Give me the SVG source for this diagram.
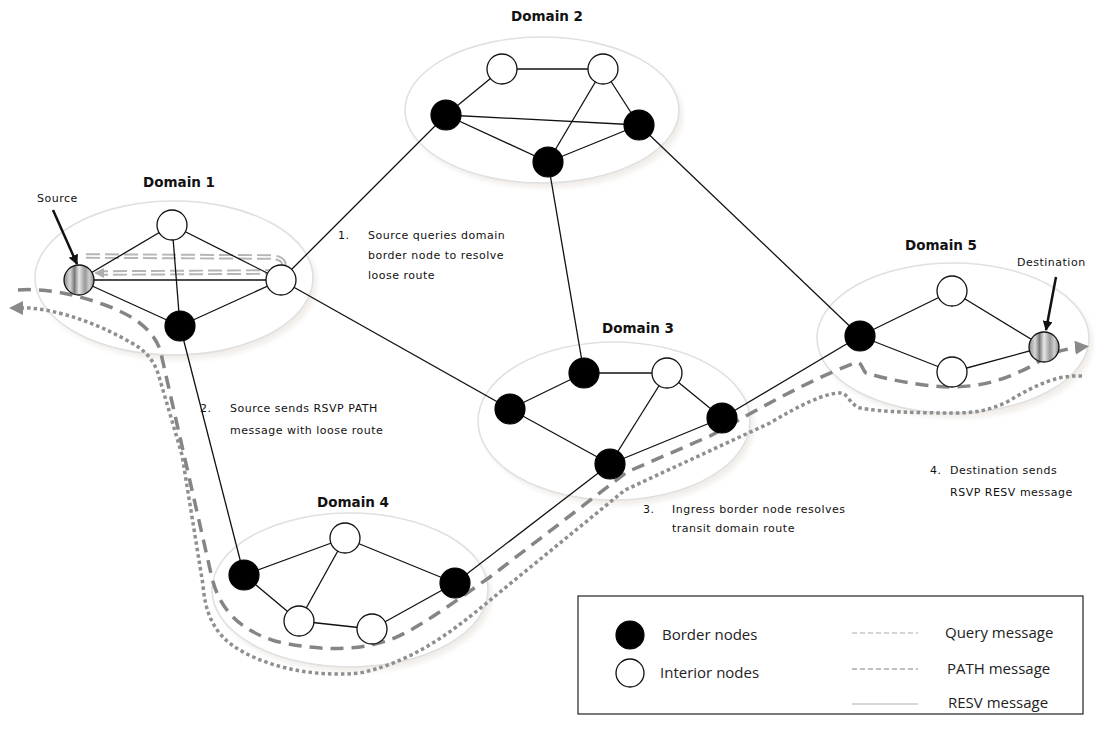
<svg xmlns="http://www.w3.org/2000/svg" width="1095" height="735" viewBox="0 0 1095 735">
<defs>
<style>
.dom{fill:#ffffff;stroke:#e0e0e0;stroke-width:1.6}
.shadow{fill:#f1ede9;filter:url(#blur)}
.edge{stroke:#111;stroke-width:1.3;fill:none}
.border{fill:#000;stroke:#000;stroke-width:1.2}
.interior{fill:#fff;stroke:#111;stroke-width:1.3}
.endpoint{fill:url(#stripe);stroke:#111;stroke-width:1.3}
.dtitle{font-family:"DejaVu Sans",sans-serif;font-weight:bold;font-size:13.5px;fill:#111;text-anchor:middle}
.note{font-family:"DejaVu Sans",sans-serif;font-size:11px;letter-spacing:0.5px;fill:#111}
.leg{font-family:"Open Sans",sans-serif;font-size:15px;fill:#222}
.path{fill:none;stroke:#858585;stroke-width:3.5;stroke-dasharray:13 8}
.resv{fill:none;stroke:#8f8f8f;stroke-width:3.5;stroke-dasharray:3.5 3}
.qo{fill:none;stroke:#b5b5b5;stroke-width:5.5;stroke-dasharray:14 5}
.qi{fill:none;stroke:#fff;stroke-width:1.6;stroke-dasharray:14 5}
</style>
<filter id="blur" x="-10%" y="-10%" width="120%" height="130%"><feGaussianBlur stdDeviation="2.5"/></filter>
<linearGradient id="stripe" x1="0" y1="0" x2="1" y2="0">
<stop offset="0" stop-color="#8a8a8a"/>
<stop offset="0.2" stop-color="#d8d8d8"/>
<stop offset="0.35" stop-color="#7a7a7a"/>
<stop offset="0.5" stop-color="#e8e8e8"/>
<stop offset="0.7" stop-color="#9a9a9a"/>
<stop offset="0.85" stop-color="#cfcfcf"/>
<stop offset="1" stop-color="#888"/>
</linearGradient>
<marker id="arrGray" viewBox="0 0 10 10" refX="5" refY="5" markerWidth="4" markerHeight="4" orient="auto" markerUnits="strokeWidth">
<path d="M0,0 L10,5 L0,10 z" fill="#8a8a8a"/>
</marker>
<marker id="arrBlack" viewBox="0 0 10 10" refX="9" refY="5" markerWidth="4" markerHeight="4" orient="auto" markerUnits="strokeWidth">
<path d="M0,0 L10,5 L0,10 z" fill="#111"/>
</marker>
</defs>

<rect width="1095" height="735" fill="#ffffff"/>

<g id="domains">
<ellipse class="shadow" cx="178" cy="283" rx="139" ry="77"/>
<ellipse class="dom" cx="174" cy="278" rx="139" ry="77"/>
<ellipse class="shadow" cx="546" cy="115" rx="137" ry="73"/>
<ellipse class="dom" cx="542" cy="110" rx="137" ry="73"/>
<ellipse class="shadow" cx="618" cy="426" rx="136" ry="79"/>
<ellipse class="dom" cx="614" cy="421" rx="136" ry="79"/>
<ellipse class="shadow" cx="354" cy="595" rx="138" ry="77"/>
<ellipse class="dom" cx="350" cy="590" rx="138" ry="77"/>
<ellipse class="shadow" cx="957" cy="343" rx="136" ry="75"/>
<ellipse class="dom" cx="953" cy="338" rx="136" ry="75"/>
</g>

<g id="messages">
<path id="path-msg" class="path" d="M18 290 C45 288,75 294,105 305 C135 316,158 332,162 358 L212 578 C220 610,240 630,275 641 C320 652,370 652,405 633 C430 620,460 598,490 577 L627 472 L710 436 C740 420,780 395,837 370 L857 362 C862 362,862 370,866 373 C890 380,920 386,950 387 C985 387,1010 378,1037 363 Q1052 350,1082 347" marker-end="url(#arrGray)"/>
<path id="resv-msg" class="resv" d="M1082 376 C1060 375,1040 382,1007 402 C990 410,975 413,955 413 C920 413,880 412,860 408 C850 405,848 393,840 393 C825 393,800 405,770 423 L625 490 L500 592 C460 625,420 660,360 673 C310 678,260 665,232 645 C212 630,205 610,203 585 L182 455 L160 380 C155 360,145 350,130 342 C105 328,70 312,30 308 L16 308" marker-end="url(#arrGray)"/>
<g id="query-msg">
<path class="qo" d="M86 256 L272 257 C288 258,288 271,270 272 L104 273"/>
<path class="qi" d="M86 256 L272 257 C288 258,288 271,270 272 L104 273"/>
<path d="M104 268 L94 273 L104 278 z" fill="#b0b0b0"/>
</g>
</g>

<g id="connectors">
<line class="edge" x1="79" y1="280" x2="172" y2="225"/>
<line class="edge" x1="79" y1="280" x2="281" y2="280"/>
<line class="edge" x1="79" y1="280" x2="180" y2="326"/>
<line class="edge" x1="172" y1="225" x2="180" y2="326"/>
<line class="edge" x1="172" y1="225" x2="281" y2="280"/>
<line class="edge" x1="180" y1="326" x2="281" y2="280"/>
<line class="edge" x1="281" y1="280" x2="446" y2="115"/>
<line class="edge" x1="281" y1="280" x2="510" y2="409"/>
<line class="edge" x1="180" y1="326" x2="244" y2="575"/>
<line class="edge" x1="502" y1="69" x2="603" y2="69"/>
<line class="edge" x1="502" y1="69" x2="446" y2="115"/>
<line class="edge" x1="446" y1="115" x2="639" y2="125"/>
<line class="edge" x1="446" y1="115" x2="548" y2="162"/>
<line class="edge" x1="603" y1="69" x2="548" y2="162"/>
<line class="edge" x1="603" y1="69" x2="639" y2="125"/>
<line class="edge" x1="548" y1="162" x2="639" y2="125"/>
<line class="edge" x1="548" y1="162" x2="584" y2="373"/>
<line class="edge" x1="639" y1="125" x2="860" y2="336"/>
<line class="edge" x1="584" y1="373" x2="667" y2="373"/>
<line class="edge" x1="584" y1="373" x2="510" y2="409"/>
<line class="edge" x1="510" y1="409" x2="610" y2="464"/>
<line class="edge" x1="667" y1="373" x2="610" y2="464"/>
<line class="edge" x1="667" y1="373" x2="722" y2="418"/>
<line class="edge" x1="610" y1="464" x2="722" y2="418"/>
<line class="edge" x1="610" y1="464" x2="455" y2="583"/>
<line class="edge" x1="722" y1="418" x2="860" y2="336"/>
<line class="edge" x1="244" y1="575" x2="345" y2="538"/>
<line class="edge" x1="244" y1="575" x2="299" y2="621"/>
<line class="edge" x1="345" y1="538" x2="299" y2="621"/>
<line class="edge" x1="345" y1="538" x2="455" y2="583"/>
<line class="edge" x1="299" y1="621" x2="372" y2="629"/>
<line class="edge" x1="372" y1="629" x2="455" y2="583"/>
<line class="edge" x1="860" y1="336" x2="952" y2="291"/>
<line class="edge" x1="860" y1="336" x2="952" y2="372"/>
<line class="edge" x1="952" y1="291" x2="1044" y2="347"/>
<line class="edge" x1="952" y1="372" x2="1044" y2="347"/>
<line x1="53" y1="210" x2="77" y2="264" stroke="#111" stroke-width="2.5" marker-end="url(#arrBlack)"/>
<line x1="1056" y1="277" x2="1046" y2="330" stroke="#111" stroke-width="2.5" marker-end="url(#arrBlack)"/>
</g>

<g id="domain1">
<text class="dtitle" x="179" y="187">Domain 1</text>
<circle id="source" class="endpoint" cx="79" cy="280" r="15"/>
<circle class="interior" cx="172" cy="225" r="15"/>
<circle class="interior" cx="281" cy="280" r="15"/>
<circle class="border" cx="180" cy="326" r="15"/>
</g>
<g id="domain2">
<text class="dtitle" x="547" y="21">Domain 2</text>
<circle class="interior" cx="502" cy="69" r="15"/>
<circle class="interior" cx="603" cy="69" r="15"/>
<circle class="border" cx="446" cy="115" r="15"/>
<circle class="border" cx="639" cy="125" r="15"/>
<circle class="border" cx="548" cy="162" r="15"/>
</g>
<g id="domain3">
<text class="dtitle" x="638" y="333">Domain 3</text>
<circle class="border" cx="584" cy="373" r="15"/>
<circle class="interior" cx="667" cy="373" r="15"/>
<circle class="border" cx="510" cy="409" r="15"/>
<circle class="border" cx="722" cy="418" r="15"/>
<circle class="border" cx="610" cy="464" r="15"/>
</g>
<g id="domain4">
<text class="dtitle" x="353" y="507">Domain 4</text>
<circle class="interior" cx="345" cy="538" r="15"/>
<circle class="border" cx="244" cy="575" r="15"/>
<circle class="border" cx="455" cy="583" r="15"/>
<circle class="interior" cx="299" cy="621" r="15"/>
<circle class="interior" cx="372" cy="629" r="15"/>
</g>
<g id="domain5">
<text class="dtitle" x="941" y="250">Domain 5</text>
<circle class="border" cx="860" cy="336" r="15"/>
<circle class="interior" cx="952" cy="291" r="15"/>
<circle class="interior" cx="952" cy="372" r="15"/>
<circle id="destination" class="endpoint" cx="1044" cy="347" r="15"/>
</g>

<g id="labels">
<text class="note" x="37" y="202">Source</text>
<text class="note" x="1017" y="266">Destination</text>
<text class="note" x="338" y="239">1.</text>
<text class="note" x="368" y="239">Source queries domain</text>
<text class="note" x="368" y="259">border node to resolve</text>
<text class="note" x="368" y="279">loose route</text>
<text class="note" x="200" y="412">2.</text>
<text class="note" x="230" y="412">Source sends RSVP PATH</text>
<text class="note" x="230" y="434">message with loose route</text>
<text class="note" x="643" y="513">3.</text>
<text class="note" x="672" y="513">Ingress border node resolves</text>
<text class="note" x="672" y="532">transit domain route</text>
<text class="note" x="930" y="474">4.</text>
<text class="note" x="950" y="474">Destination sends</text>
<text class="note" x="950" y="496">RSVP RESV message</text>
</g>

<g id="legend">
<rect x="578" y="596" width="505" height="118" fill="#fff" stroke="#222" stroke-width="1.2"/>
<circle class="border" cx="630" cy="635" r="14"/>
<text class="leg" x="662" y="640">Border nodes</text>
<circle class="interior" cx="630" cy="673" r="14"/>
<text class="leg" x="660" y="678">Interior nodes</text>
<line x1="852" y1="633" x2="918" y2="633" stroke="#c8c8c8" stroke-width="1.5" stroke-dasharray="5 3"/>
<text class="leg" x="945" y="638">Query message</text>
<line x1="852" y1="669" x2="918" y2="669" stroke="#aaa" stroke-width="1.5" stroke-dasharray="5 3"/>
<text class="leg" x="947" y="674">PATH message</text>
<line x1="852" y1="704" x2="918" y2="704" stroke="#c8c8c8" stroke-width="1.5"/>
<text class="leg" x="948" y="708">RESV message</text>
</g>
</svg>
